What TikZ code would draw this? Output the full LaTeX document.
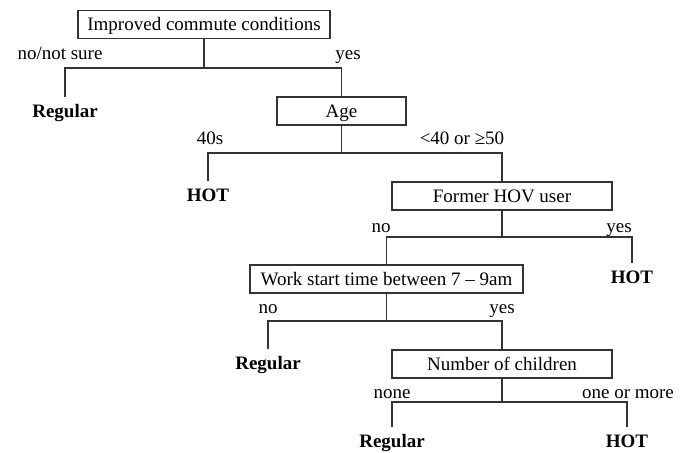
\documentclass[tikz,border=0pt]{standalone}
\usepackage{fontspec}
\setmainfont{Liberation Serif}
\usepackage{tikz}
\usetikzlibrary{positioning, calc}

\begin{document}
\begin{tikzpicture}[
    x=1pt, y=-1pt,
    font=\fontsize{19}{22}\selectfont,
    box/.style={rectangle, draw=black!80, line width=1.2pt, inner sep=0pt,
                minimum height=28pt, text height=13pt, text depth=0pt},
    leaf/.style={anchor=north, font=\fontsize{19}{22}\selectfont\bfseries,
                 inner xsep=0pt, inner ysep=7pt, text height=13pt, text depth=4pt},
    lbl/.style={inner sep=0pt, text height=13pt, text depth=0pt},
    ln/.style={line width=1.2pt, draw=black!80},
]
\useasboundingbox (0,0) rectangle (687,452);

% split boxes
\node[box, minimum width=252pt] (commute) at (204,24.5) {Improved commute conditions};
\node[box, minimum width=129pt] (age)     at (341.5,111) {Age};
\node[box, minimum width=220pt] (hov)     at (502,196)   {Former HOV user};
\node[box, minimum width=273pt] (work)    at (386.5,279) {Work start time between 7 -- 9am};
\node[box, minimum width=220pt] (kids)    at (502,364)   {Number of children};

% branch points
\coordinate (jcommute) at (204,68);
\coordinate (jage)     at (341.5,153);
\coordinate (jhov)     at (502,237);
\coordinate (jwork)    at (386.5,321);
\coordinate (jkids)    at (502,402);

% outcomes
\node[leaf] (reg1) at (65,97)   {Regular};
\node[leaf] (hot1) at (208,181) {HOT};
\node[leaf] (hot2) at (632,263) {HOT};
\node[leaf] (reg2) at (268,349) {Regular};
\node[leaf] (reg3) at (392,427) {Regular};
\node[leaf] (hot3) at (627,427) {HOT};

% branch labels
\node[lbl] (lnosure) at (60,53)   {no/not sure};
\node[lbl] (lyes1)   at (348,53)  {yes};
\node[lbl] (l40s)    at (210,138) {40s};
\node[lbl] (lother)  at (462,138) {<40 or ≥50};
\node[lbl] (lno2)    at (381,226) {no};
\node[lbl] (lyes2)   at (619,226) {yes};
\node[lbl] (lno3)    at (268,307) {no};
\node[lbl] (lyes3)   at (502,307) {yes};
\node[lbl] (lnone)   at (392,392) {none};
\node[lbl] (lmore)   at (628,392) {one or more};

\draw[ln] (commute) -- (jcommute);
\draw[ln] (reg1) |- (jcommute) -| (age);

\draw[ln] (age) -- (jage);
\draw[ln] (hot1) |- (jage) -| (hov);

\draw[ln] (hov) -- (jhov);
\draw[ln] (work) |- (jhov) -| (hot2);

\draw[ln] (work) -- (jwork);
\draw[ln] (reg2) |- (jwork) -| (kids);

\draw[ln] (kids) -- (jkids);
\draw[ln] (reg3) |- (jkids) -| (hot3);

\end{tikzpicture}
\end{document}
